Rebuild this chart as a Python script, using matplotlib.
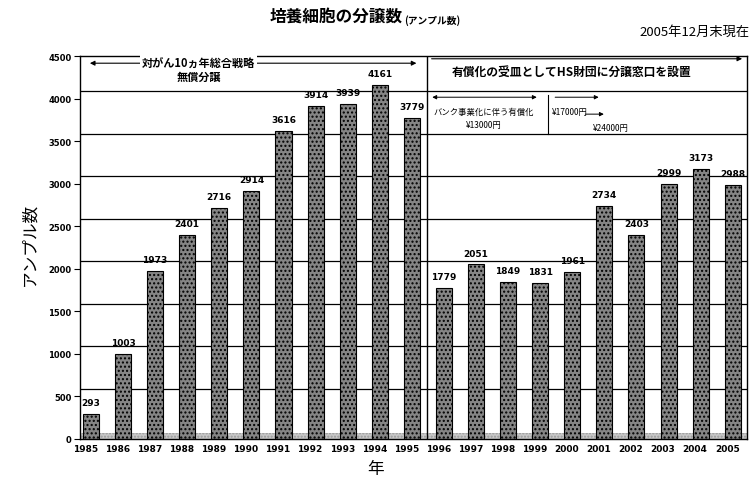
import numpy as np
import matplotlib.pyplot as plt

plt.rcParams['font.family'] = ['Noto Sans CJK JP', 'DejaVu Sans']
plt.rcParams['hatch.color'] = '#4a4a4a'

years = ['1985', '1986', '1987', '1988', '1989', '1990', '1991', '1992', '1993', '1994', '1995',
         '1996', '1997', '1998', '1999', '2000', '2001', '2002', '2003', '2004', '2005']
ampoules = [293, 1003, 1973, 2401, 2716, 2914, 3616, 3914, 3939, 4161, 3779,
            1779, 2051, 1849, 1831, 1961, 2734, 2403, 2999, 3173, 2988]
yticks = [0, 500, 1000, 1500, 2000, 2500, 3000, 3500, 4000, 4500]


def main():
    fig = plt.figure(figsize=(7.52, 4.85), dpi=100)
    ax = fig.add_axes([0.106, 0.093, 0.888, 0.789])
    x = np.arange(len(years))

    # back-wall grid drawn slightly above the value (3D look of the original)
    for v in yticks[1:-1]:
        ax.axhline(v + 90, color='black', lw=0.9, zorder=1)

    # floor strip
    ax.axhspan(0, 70, color='#c8c8c8', hatch='.....', ec='#999999', lw=0, zorder=1)

    bars = ax.bar(x + 0.07, ampoules, width=0.5, color='#858585', edgecolor='black',
                  linewidth=0.8, hatch='....', zorder=2)
    for b, v in zip(bars, ampoules):
        ax.annotate(str(v), (b.get_x() + b.get_width() / 2, v), xytext=(0, 5),
                    textcoords='offset points', ha='center', va='bottom',
                    fontsize=6.5, fontweight='bold', family='DejaVu Sans')

    ax.axvline(10.53, color='black', lw=1.0, zorder=3)

    ax.set_xlim(-0.28, 20.53)
    ax.set_ylim(0, 4500)
    ax.set_xticks(x - 0.1)
    ax.set_xticklabels(years, fontsize=6.5, fontweight='bold', family='DejaVu Sans')
    ax.set_yticks(yticks)
    ax.set_yticklabels([str(t) for t in yticks], fontsize=6, fontweight='bold', family='DejaVu Sans')
    ax.tick_params(axis='x', length=0, pad=4)
    ax.tick_params(axis='y', length=4, pad=2)
    for s in ax.spines.values():
        s.set_linewidth(1.0)

    # left period annotation
    ax.annotate('', xy=(-0.05, 4418), xytext=(10.3, 4418),
                arrowprops=dict(arrowstyle='<|-|>', lw=0.8, color='black', mutation_scale=7), zorder=4)
    ax.text(3.43, 4418, '対がん10ヵ年総合戦略', ha='center', va='center', fontsize=8, fontweight='bold',
            bbox=dict(fc='white', ec='none', pad=1.5), zorder=5)
    ax.text(3.43, 4265, '無償分譲', ha='center', va='center', fontsize=8, fontweight='bold', zorder=5)

    # right period annotation
    ax.annotate('', xy=(20.45, 4470), xytext=(10.6, 4470),
                arrowprops=dict(arrowstyle='-|>', lw=0.8, color='black', mutation_scale=7), zorder=4)
    ax.text(11.31, 4324, '有償化の受皿としてHS財団に分譲窓口を設置', ha='left', va='center',
            fontsize=8.5, fontweight='bold', zorder=5)

    ax.annotate('', xy=(10.62, 4018), xytext=(14.05, 4018),
                arrowprops=dict(arrowstyle='<|-|>', lw=0.7, color='black', mutation_scale=6), zorder=4)
    ax.text(12.3, 3854, 'バンク事業化に伴う有償化', ha='center', va='center', fontsize=6, zorder=5)
    ax.text(12.3, 3701, '¥13000円', ha='center', va='center', fontsize=6, zorder=5)
    ax.plot([14.3, 14.3], [3584, 4042], color='black', lw=0.8, zorder=4)

    ax.annotate('', xy=(15.98, 4018), xytext=(14.45, 4018),
                arrowprops=dict(arrowstyle='-|>', lw=0.7, color='black', mutation_scale=6), zorder=4)
    ax.text(15.0, 3854, '¥17000円', ha='center', va='center', fontsize=6, zorder=5)
    ax.annotate('', xy=(16.14, 3819), xytext=(15.39, 3819),
                arrowprops=dict(arrowstyle='-|>', lw=0.7, color='black', mutation_scale=6), zorder=4)
    ax.text(16.26, 3666, '¥24000円', ha='center', va='center', fontsize=6, zorder=5)

    fig.text(0.535, 0.965, '培養細胞の分譲数', ha='right', va='center', fontsize=12, fontweight='bold')
    fig.text(0.537, 0.958, '(アンプル数)', ha='left', va='center', fontsize=7, fontweight='bold')
    fig.text(0.997, 0.934, '2005年12月末現在', ha='right', va='center', fontsize=9.5)
    fig.text(0.04, 0.495, 'アンプル数', rotation=90, ha='center', va='center', fontsize=12)
    fig.text(0.499, 0.031, '年', ha='center', va='center', fontsize=12)

    fig.savefig('out.png', dpi=100)


if __name__ == "__main__":
    main()
